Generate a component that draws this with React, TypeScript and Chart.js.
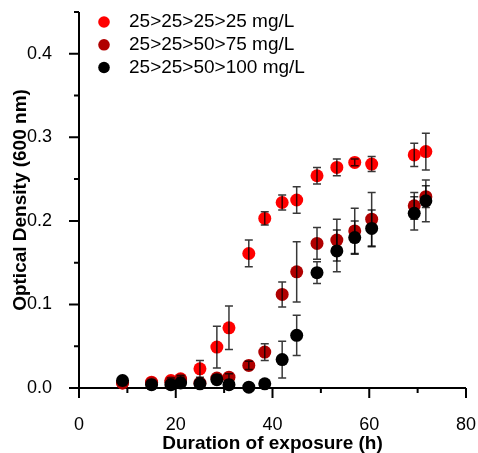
import { useEffect, useRef } from 'react';
import { Chart, registerables } from 'chart.js';

Chart.register(...registerables);

const FONT = "'Liberation Sans', Arial, sans-serif";

const hours = [9, 15, 19, 21, 25, 28.5, 31, 35.1, 38.4, 42, 45, 49.2, 53.3, 57, 60.5, 69.3, 71.7];

const series1Label = '25>25>25>25 mg/L';
const series1Values = [0.006, 0.007, 0.009, 0.011, 0.023, 0.049, 0.072, 0.161, 0.203, 0.222, 0.225, 0.254, 0.264, 0.270, 0.268, 0.279, 0.283];
const series1Errors = [0.002, 0.002, 0.003, 0.004, 0.010, 0.025, 0.026, 0.016, 0.008, 0.009, 0.016, 0.010, 0.010, 0.004, 0.009, 0.014, 0.022];

const series2Label = '25>25>50>75 mg/L';
const series2Values = [0.006, 0.006, 0.007, 0.010, 0.006, 0.012, 0.013, 0.027, 0.043, 0.112, 0.139, 0.173, 0.177, 0.188, 0.202, 0.218, 0.229];
const series2Errors = [0.002, 0.002, 0.002, 0.003, 0.002, 0.004, 0.004, 0.005, 0.010, 0.015, 0.036, 0.019, 0.025, 0.027, 0.032, 0.016, 0.013];

const series3Label = '25>25>50>100 mg/L';
const series3Values = [0.009, 0.004, 0.004, 0.006, 0.005, 0.010, 0.004, 0.001, 0.005, 0.034, 0.063, 0.138, 0.164, 0.180, 0.191, 0.209, 0.224];
const series3Errors = [0.002, 0.002, 0.002, 0.002, 0.002, 0.003, 0.002, 0.001, 0.002, 0.022, 0.024, 0.013, 0.025, 0.020, 0.022, 0.020, 0.025];

const seriesColors = ['#FF0000', '#B00000', '#000000'];

const xTitle = 'Duration of exposure (h)';
const yTitle = 'Optical Density (600 nm)';

const seriesLabels = [series1Label, series2Label, series3Label];
const seriesValues = [series1Values, series2Values, series3Values];
const seriesErrors = [series1Errors, series2Errors, series3Errors];

const axesPlugin = {
  id: 'customAxes',
  beforeDatasetsDraw(chart: any) {
    const { ctx, chartArea, scales } = chart;
    const { left, right, top, bottom } = chartArea;
    const x = scales.x;
    const y = scales.y;
    ctx.save();
    ctx.strokeStyle = '#000';
    ctx.lineWidth = 2;
    ctx.beginPath();
    ctx.moveTo(left, top);
    ctx.lineTo(left, bottom);
    ctx.moveTo(left - 1, bottom);
    ctx.lineTo(right, bottom);
    for (const t of x.ticks) {
      const px = x.getPixelForValue(t.value);
      const major = Math.round(t.value) % 20 === 0;
      ctx.moveTo(px, bottom);
      ctx.lineTo(px, bottom + (major ? 10 : 5));
    }
    for (const t of y.ticks) {
      const py = y.getPixelForValue(t.value);
      const major = Math.round(t.value * 100) % 10 === 0;
      ctx.moveTo(left, py);
      ctx.lineTo(left - (major ? 10 : 5), py);
    }
    ctx.stroke();
    ctx.restore();
  },
};

const errorBarPlugin = {
  id: 'errorBars',
  afterDatasetsDraw(chart: any) {
    const { ctx, scales } = chart;
    const x = scales.x;
    const y = scales.y;
    ctx.save();
    ctx.strokeStyle = 'rgba(0,0,0,0.78)';
    ctx.lineWidth = 1.5;
    for (let d = 0; d < seriesValues.length; d++) {
      const vals = seriesValues[d];
      const errs = seriesErrors[d];
      for (let i = 0; i < hours.length; i++) {
        const px = x.getPixelForValue(hours[i]);
        const yTop = y.getPixelForValue(vals[i] + errs[i]);
        const yBot = y.getPixelForValue(vals[i] - errs[i]);
        ctx.beginPath();
        ctx.moveTo(px, yTop);
        ctx.lineTo(px, yBot);
        ctx.moveTo(px - 4, yTop);
        ctx.lineTo(px + 4, yTop);
        ctx.moveTo(px - 4, yBot);
        ctx.lineTo(px + 4, yBot);
        ctx.stroke();
      }
    }
    ctx.restore();
  },
};

const legendPlugin = {
  id: 'customLegend',
  afterDraw(chart: any) {
    const { ctx } = chart;
    const rows = [22, 44.8, 67.5];
    ctx.save();
    ctx.font = `19px ${FONT}`;
    ctx.textBaseline = 'middle';
    ctx.textAlign = 'left';
    for (let i = 0; i < seriesLabels.length; i++) {
      ctx.fillStyle = seriesColors[i];
      ctx.beginPath();
      ctx.arc(104, rows[i], 5.8, 0, Math.PI * 2);
      ctx.fill();
      ctx.fillStyle = '#000';
      ctx.fillText(seriesLabels[i], 129, rows[i]);
    }
    ctx.restore();
  },
};

export default function App() {
  const canvasRef = useRef<HTMLCanvasElement | null>(null);

  useEffect(() => {
    document.body.style.margin = '0';
    const canvas = canvasRef.current;
    if (!canvas) return;
    const datasets = seriesValues.map((vals, d) => ({
      label: seriesLabels[d],
      data: hours.map((h, i) => ({ x: h, y: vals[i] })),
      backgroundColor: seriesColors[d],
      borderColor: seriesColors[d],
      borderWidth: 0,
      pointRadius: 6.5,
      pointHoverRadius: 6.5,
      showLine: false,
      clip: false as any,
      order: 3 - d,
    }));

    const chart = new Chart(canvas, {
      type: 'scatter',
      data: { datasets },
      options: {
        animation: false,
        responsive: false,
        devicePixelRatio: 1,
        layout: { autoPadding: false, padding: { top: 12, right: 12, left: 0, bottom: 0 } },
        plugins: {
          legend: { display: false },
          tooltip: { enabled: false },
        },
        scales: {
          x: {
            type: 'linear',
            min: 0,
            max: 80,
            grid: { display: false },
            border: { display: false },
            ticks: {
              stepSize: 10,
              autoSkip: false,
              maxRotation: 0,
              padding: 18,
              color: '#000',
              font: { family: FONT, size: 18 },
              callback: (v: any) => (Math.round(Number(v)) % 20 === 0 ? String(v) : ''),
            },
            title: {
              display: true,
              text: xTitle,
              color: '#000',
              font: { family: FONT, size: 19, weight: 'bold', lineHeight: 1 },
              padding: { top: 0, bottom: 0 },
            },
            afterFit: (scale: any) => {
              scale.height = 65;
              scale.paddingLeft = 0;
              scale.paddingRight = 0;
            },
          },
          y: {
            type: 'linear',
            min: 0,
            max: 0.45,
            grid: { display: false },
            border: { display: false },
            ticks: {
              stepSize: 0.05,
              autoSkip: false,
              padding: 19,
              color: '#000',
              font: { family: FONT, size: 18 },
              callback: (v: any) => {
                const n = Number(v);
                return Math.round(n * 100) % 10 === 0 ? n.toFixed(1) : '';
              },
            },
            title: {
              display: true,
              text: yTitle,
              color: '#000',
              font: { family: FONT, size: 19, weight: 'bold', lineHeight: 1.2 },
              padding: { top: 9, bottom: 0 },
            },
            afterFit: (scale: any) => {
              scale.width = 79;
              scale.paddingTop = 0;
              scale.paddingBottom = 0;
            },
          },
        },
      },
      plugins: [axesPlugin, errorBarPlugin, legendPlugin],
    });

    return () => {
      chart.destroy();
    };
  }, []);

  return (
    <div style={{ width: 478, height: 453, background: '#fff' }}>
      <canvas ref={canvasRef} width={478} height={453} style={{ display: 'block' }} />
    </div>
  );
}
